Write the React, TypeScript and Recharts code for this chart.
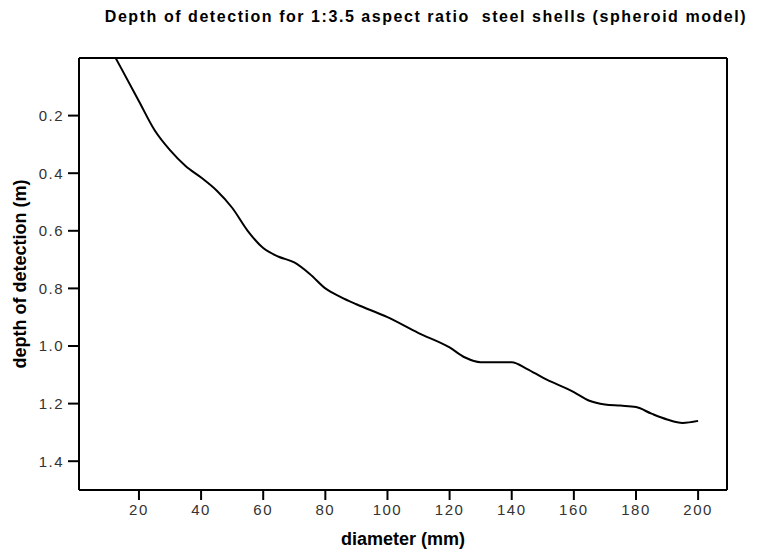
import React from "react";
import { LineChart, Line, XAxis, YAxis } from "recharts";

const diameters = [12.5, 20, 25, 30, 35, 40, 45, 50, 55, 60, 65, 70, 75, 80, 85, 90, 100, 110, 120, 125, 130, 140, 145, 150, 160, 165, 170, 175, 180, 185, 190, 195, 200];
const depths = [0.0, 0.15, 0.25, 0.32, 0.375, 0.415, 0.46, 0.52, 0.6, 0.66, 0.69, 0.71, 0.75, 0.8, 0.83, 0.855, 0.9, 0.955, 1.005, 1.04, 1.056, 1.056, 1.08, 1.11, 1.16, 1.19, 1.203, 1.207, 1.212, 1.235, 1.255, 1.267, 1.26];
const xTicks = [20, 40, 60, 80, 100, 120, 140, 160, 180, 200];
const yTicks = [0.2, 0.4, 0.6, 0.8, 1.0, 1.2, 1.4];

const data = diameters.map((d, i) => ({ d, depth: depths[i] }));

const font = "'Liberation Sans', Arial, sans-serif";
const tickStyle = { fontFamily: font, fontSize: 15, fill: "#333", letterSpacing: 1.5 };

export default function App() {
  return (
    <div style={{ position: "relative", width: 749, height: 544 }}>
      <div style={{ position: "absolute", left: 418, top: 0, width: 0, height: 0 }}>
        <div
          style={{
            position: "absolute",
            left: 0,
            top: 0,
            transform: "translateX(-50%)",
            fontFamily: font,
            fontWeight: "bold",
            fontSize: 16,
            letterSpacing: 1.55,
            whiteSpace: "pre",
            color: "#000",
          }}
        >
          Depth of detection for 1:3.5 aspect ratio  steel shells (spheroid model)
        </div>
      </div>
      <div
        style={{
          position: "absolute",
          left: 12,
          top: 266,
          width: 0,
          height: 0,
        }}
      >
        <div
          style={{
            position: "absolute",
            transform: "translate(-50%, -50%) rotate(-90deg)",
            whiteSpace: "nowrap",
            fontFamily: font,
            fontWeight: "bold",
            fontSize: 18,
          }}
        >
          depth of detection (m)
        </div>
      </div>
      <div
        style={{
          position: "absolute",
          left: 71,
          top: 521,
          width: 648,
          textAlign: "center",
          fontFamily: font,
          fontWeight: "bold",
          fontSize: 18,
        }}
      >
        diameter (mm)
      </div>
      <LineChart
        width={749}
        height={544}
        data={data}
        margin={{ top: 50, right: 30, bottom: 0, left: 0 }}
      >
        <XAxis
          xAxisId="bottom"
          dataKey="d"
          type="number"
          domain={[0.7, 209.3]}
          ticks={xTicks}
          allowDataOverflow
          height={62}
          tickSize={10}
          tickMargin={4}
          axisLine={{ stroke: "#000", strokeWidth: 2 }}
          tickLine={{ stroke: "#000", strokeWidth: 2 }}
          tick={tickStyle}
        />
        <XAxis
          xAxisId="top"
          orientation="top"
          dataKey="d"
          type="number"
          domain={[0.7, 209.3]}
          ticks={xTicks}
          allowDataOverflow
          mirror
          tickSize={5}
          tick={false}
          axisLine={{ stroke: "#000", strokeWidth: 2 }}
          tickLine={{ stroke: "#000", strokeWidth: 2 }}
        />
        <YAxis
          yAxisId="left"
          type="number"
          domain={[0, 1.5]}
          reversed
          ticks={yTicks}
          allowDataOverflow
          width={71}
          tickSize={11}
          tickMargin={4}
          tickFormatter={(v: number) => v.toFixed(1)}
          axisLine={{ stroke: "#000", strokeWidth: 2 }}
          tickLine={{ stroke: "#000", strokeWidth: 2 }}
          tick={tickStyle}
        />
        <YAxis
          yAxisId="right"
          orientation="right"
          type="number"
          domain={[0, 1.5]}
          reversed
          ticks={yTicks}
          allowDataOverflow
          mirror
          tickSize={5}
          tick={false}
          axisLine={{ stroke: "#000", strokeWidth: 2 }}
          tickLine={{ stroke: "#000", strokeWidth: 2 }}
        />
        <Line
          xAxisId="bottom"
          yAxisId="left"
          dataKey="depth"
          type="monotone"
          stroke="#000"
          strokeWidth={2}
          dot={false}
          isAnimationActive={false}
        />
      </LineChart>
    </div>
  );
}
